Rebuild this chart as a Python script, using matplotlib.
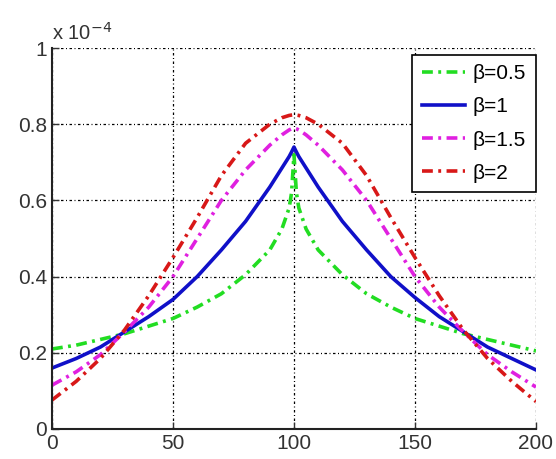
import matplotlib
matplotlib.use('Agg')
import matplotlib.pyplot as plt
import numpy as np

# sample positions (denser near the peak at 100)
x = [0, 10, 20, 30, 40, 50, 60, 70, 80, 90, 95, 98, 99, 100,
     101, 102, 105, 110, 120, 130, 140, 150, 160, 170, 180, 190, 200]

# values in units of 1e-4
beta05 = [0.21, 0.22, 0.235, 0.25, 0.27, 0.29, 0.32, 0.355, 0.405, 0.47, 0.525, 0.58, 0.62, 0.72,
          0.62, 0.58, 0.525, 0.47, 0.405, 0.355, 0.32, 0.29, 0.27, 0.25, 0.235, 0.22, 0.205]
beta1 = [0.16, 0.185, 0.215, 0.255, 0.295, 0.34, 0.40, 0.47, 0.545, 0.635, 0.685, 0.715, 0.727, 0.74,
         0.727, 0.715, 0.685, 0.635, 0.545, 0.47, 0.40, 0.345, 0.295, 0.255, 0.215, 0.185, 0.155]
beta15 = [0.115, 0.15, 0.195, 0.255, 0.32, 0.40, 0.50, 0.60, 0.68, 0.745, 0.772, 0.785, 0.788, 0.79,
          0.788, 0.785, 0.772, 0.745, 0.68, 0.60, 0.50, 0.40, 0.32, 0.255, 0.195, 0.15, 0.11]
beta2 = [0.076, 0.125, 0.185, 0.26, 0.35, 0.45, 0.555, 0.665, 0.75, 0.80, 0.817, 0.823, 0.824, 0.825,
         0.824, 0.823, 0.817, 0.80, 0.75, 0.665, 0.555, 0.45, 0.35, 0.26, 0.185, 0.125, 0.072]

labels = ['β=0.5', 'β=1', 'β=1.5', 'β=2']
colors = ['#22dd22', '#1010c8', '#e020e0', '#d81818']

plt.rcParams['font.family'] = ['Liberation Sans', 'DejaVu Sans']

fig = plt.figure(figsize=(5.56, 4.59), dpi=100)
ax = fig.add_axes([0.0935, 0.0654, 0.8705, 0.83])

dashdot = (0, (3.0, 1.5, 0.8, 1.5))
ax.plot(x, beta05, color=colors[0], lw=2.6, linestyle=dashdot, label=labels[0])
ax.plot(x, beta1, color=colors[1], lw=2.6, linestyle='-', label=labels[1])
ax.plot(x, beta15, color=colors[2], lw=2.6, linestyle=dashdot, label=labels[2])
ax.plot(x, beta2, color=colors[3], lw=2.6, linestyle=dashdot, label=labels[3])

ax.set_xlim(0, 200)
ax.set_ylim(0, 1)
ax.set_xticks([0, 50, 100, 150, 200])
ax.set_yticks([0, 0.2, 0.4, 0.6, 0.8, 1])
ax.set_yticklabels(['0', '0.2', '0.4', '0.6', '0.8', '1'])
ax.tick_params(direction='in', length=5, labelsize=15, colors='#333333', width=1)

ax.grid(True, color='black', linestyle=(0, (2, 2, 0.8, 2)), lw=0.9)
ax.spines['top'].set_visible(False)
ax.spines['right'].set_visible(False)
ax.spines['left'].set_linewidth(1.5)
ax.spines['bottom'].set_linewidth(1.5)
ax.spines['left'].set_color('#222222')
ax.spines['bottom'].set_color('#222222')

ax.text(0.0, 1.01, 'x 10$^{-4}$', transform=ax.transAxes, fontsize=14.5,
        color='#333333', ha='left', va='bottom')

leg = ax.legend(loc='upper right', bbox_to_anchor=(0.999, 0.982), fontsize=15,
                handlelength=2.1, handletextpad=0.35, borderpad=0.45,
                labelspacing=0.68, fancybox=False, framealpha=1, borderaxespad=0)
leg.get_frame().set_edgecolor('black')
leg.get_frame().set_linewidth(1.2)

fig.savefig('out.png', dpi=100)
